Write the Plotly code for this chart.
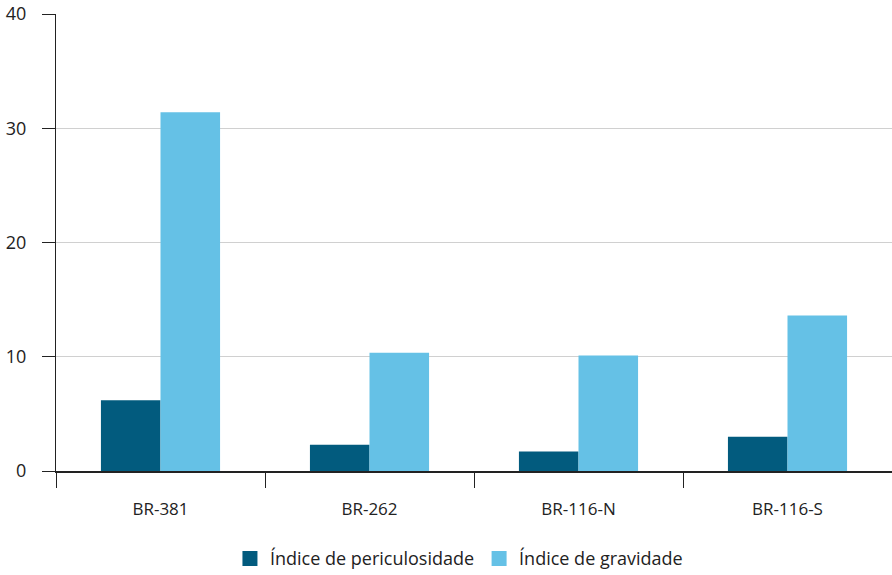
import plotly.graph_objects as go

categories = ["BR-381", "BR-262", "BR-116-N", "BR-116-S"]
periculosidade = [6.2, 2.3, 1.7, 3.0]
gravidade = [31.4, 10.35, 10.1, 13.6]
series_names = ["Índice de periculosidade", "Índice de gravidade"]
colors = ["#025B7E", "#65C1E6"]
y_ticks = [0, 10, 20, 30, 40]

fig = go.Figure()
for vals, name, col in zip([periculosidade, gravidade], series_names, colors):
    fig.add_trace(go.Bar(x=categories, y=vals, name=name, showlegend=False,
                         marker=dict(color=col, line=dict(width=0))))
# legend-only square markers
for name, col in zip(series_names, colors):
    fig.add_trace(go.Scatter(x=[None], y=[None], mode="markers", name=name,
                             marker=dict(symbol="square", size=15, color=col)))

fig.update_layout(
    width=892, height=575,
    margin=dict(l=56, r=0, t=14, b=104, autoexpand=False),
    paper_bgcolor="white", plot_bgcolor="white",
    barmode="group", bargap=0.43, bargroupgap=0,
    font=dict(family="Open Sans, Noto Sans, sans-serif", size=18, color="#222222"),
    showlegend=True,
    legend=dict(orientation="h", x=0.482, xanchor="center", y=-0.192, yanchor="middle",
                font=dict(size=18, color="#222222"), itemwidth=30,
                traceorder="normal", tracegroupgap=0),
    xaxis=dict(showline=True, linecolor="#222222", linewidth=1.5,
               ticks="outside", tickson="boundaries", ticklen=15,
               tickcolor="#222222", tickwidth=1.3, automargin=False,
               ticklabelstandoff=22,
               showgrid=False, tickfont=dict(size=17)),
    yaxis=dict(range=[0, 40], tickvals=y_ticks, showline=True,
               linecolor="#222222", linewidth=1.3, automargin=False,
               ticks="outside", ticklen=13, tickcolor="#222222", tickwidth=1.3,
               ticklabelstandoff=12, ticklabeloverflow="allow",
               showgrid=True, gridcolor="#d0d0d0", gridwidth=1.3,
               zeroline=False, tickfont=dict(size=18)),
)

fig.write_html(
    "out.html",
    config={"displayModeBar": False},
    post_script="document.documentElement.style.margin='0';"
                "document.body.style.margin='0';"
                "document.body.style.overflow='hidden';",
)
